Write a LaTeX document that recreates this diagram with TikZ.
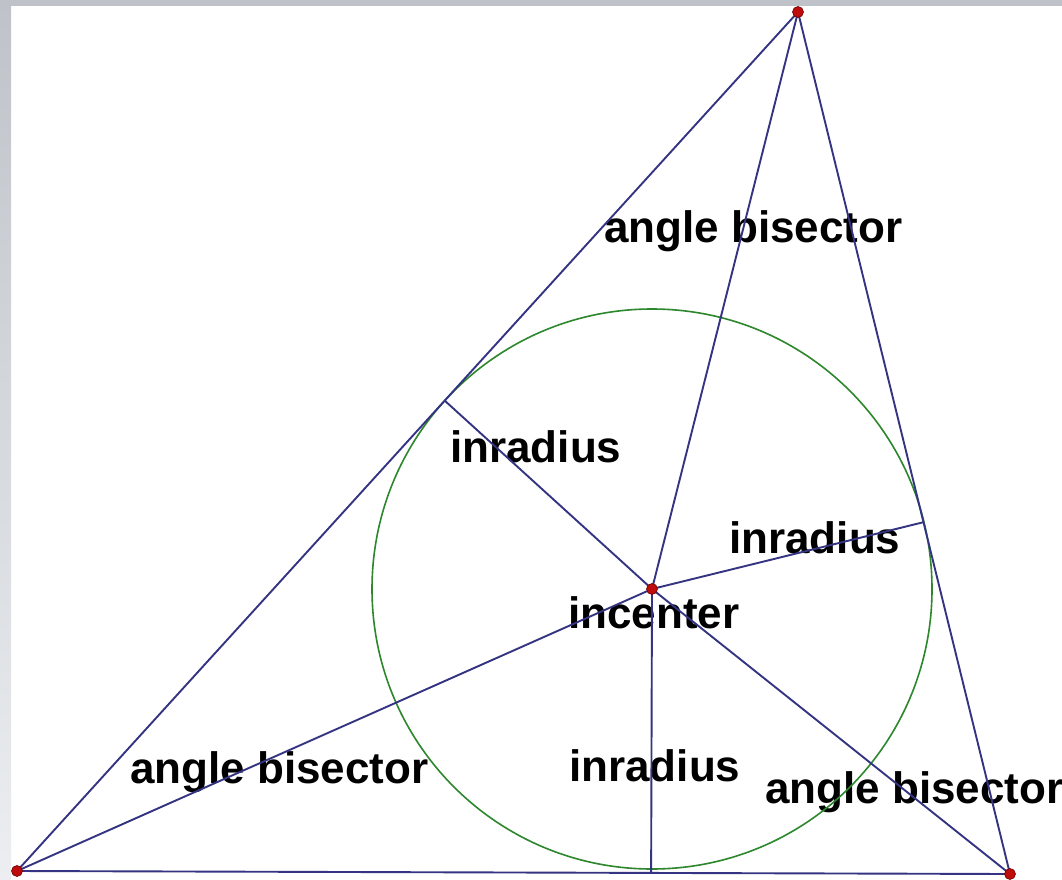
\documentclass[tikz,border=0pt]{standalone}
\usepackage{fontspec}
\setmainfont{Liberation Sans}
\usetikzlibrary{calc}
\definecolor{edgeblue}{RGB}{52,52,130}
\definecolor{incircle}{RGB}{45,135,45}
\definecolor{ptred}{RGB}{190,12,12}
\definecolor{ptdark}{RGB}{110,0,0}
\definecolor{frametop}{RGB}{191,195,201}
\definecolor{frameleftlow}{RGB}{236,238,241}
\begin{document}
\begin{tikzpicture}[x=1pt,y=-1pt,
  seg/.style={draw=edgeblue,line width=1.9pt},
  incirc/.style={draw=incircle,line width=1.6pt},
  lbl/.style={inner sep=0pt,anchor=base west,text=black,font=\fontsize{44}{44}\selectfont\bfseries},
  vertexpt/.style={circle,fill=ptred,draw=ptdark,line width=0.6pt,minimum size=11pt,inner sep=0pt}]
% canvas and frame
\useasboundingbox (0,0) rectangle (1062,880);
\fill[white] (0,0) rectangle (1062,880);
\shade[top color=frametop,bottom color=frameleftlow] (0,0) rectangle (11,880);
\fill[frametop] (0,0) rectangle (1062,6);
% geometry
\coordinate (A) at (17,871);
\coordinate (B) at (798,12);
\coordinate (C) at (1010,874);
\coordinate (I) at (652,589);
\coordinate (Fab) at ($(A)!(I)!(B)$);
\coordinate (Fbc) at ($(B)!(I)!(C)$);
\coordinate (Fac) at ($(A)!(I)!(C)$);
% labels
\node[lbl] (t1) at (604,242) {angle bisector};
\node[lbl] (t2) at (450,462) {inradius};
\node[lbl] (t3) at (729,553) {inradius};
\node[lbl] (t4) at (568,628) {incenter};
\node[lbl] (t5) at (569,781) {inradius};
\node[lbl] (t6) at (130,783) {angle bisector};
\node[lbl] (t7) at (765,803) {angle bisector};
% incircle
\draw[incirc] (I) circle[radius=280];
% triangle
\draw[seg] (A) -- (B) -- (C) -- cycle;
% angle bisectors
\draw[seg] (A) -- (I);
\draw[seg] (B) -- (I);
\draw[seg] (C) -- (I);
% inradii
\draw[seg] (I) -- (Fab);
\draw[seg] (I) -- (Fbc);
\draw[seg] (I) -- (Fac);
% points
\node[vertexpt] (pA) at (A) {};
\node[vertexpt] (pB) at (B) {};
\node[vertexpt] (pC) at (C) {};
\node[vertexpt] (pI) at (I) {};
\end{tikzpicture}
\end{document}
